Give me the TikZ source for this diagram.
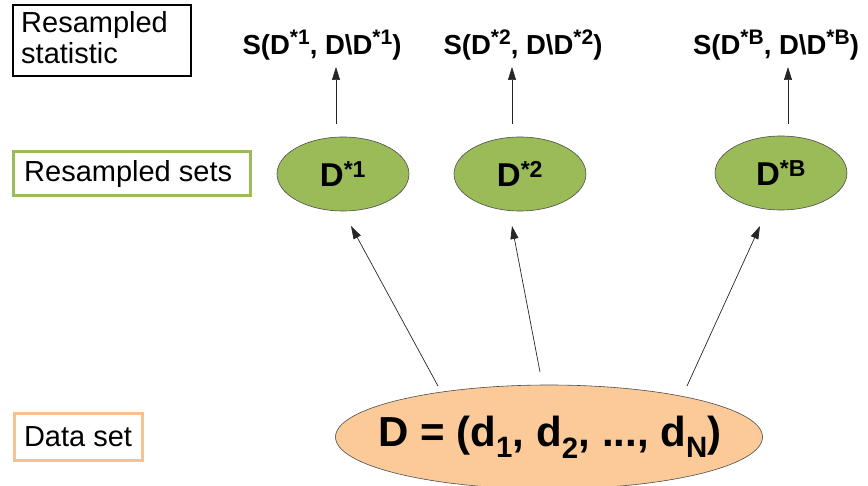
\documentclass[tikz,border=0pt]{standalone}
\usepackage{fontspec}
\setmainfont{Liberation Sans}
\usetikzlibrary{shapes.geometric,arrows.meta}
\definecolor{grn}{HTML}{9BBB59}
\definecolor{org}{HTML}{FBCA98}
\definecolor{orgline}{HTML}{FAC090}
\newcommand{\upidx}[1]{\raisebox{0.36em}{\fontsize{21}{21}\selectfont #1}}
\begin{document}
\begin{tikzpicture}[x=1pt,y=-1pt,
  setell/.style={ellipse,draw=black!70,line width=0.6pt,fill=grn,minimum width=132pt,minimum height=74pt,inner sep=0pt,font=\fontsize{33}{36}\selectfont\bfseries},
  stat/.style={inner sep=0pt,font=\fontsize{27.5}{30}\selectfont\bfseries},
  arr/.style={draw=black!85,line width=0.7pt,-{Triangle[length=13pt,width=8pt]}}]
\useasboundingbox (0,0) rectangle (868,486);
% legend boxes
\node[draw=black,line width=2pt,minimum width=178pt,minimum height=71pt,inner sep=0pt] (b1) at (102,40.5) {};
\node[anchor=north west,align=left,inner sep=0pt,font=\fontsize{29}{31}\selectfont] (t1) at (21,11) {Resampled\\statistic};
\node[draw=grn,line width=3pt,minimum width=237pt,minimum height=44pt,inner sep=0pt] (b2) at (131.5,174) {};
\node[anchor=west,inner sep=0pt,font=\fontsize{29}{31}\selectfont] (t2) at (24,174) {Resampled sets};
\node[draw=orgline,line width=3pt,minimum width=128pt,minimum height=46pt,inner sep=0pt,font=\fontsize{29}{31}\selectfont] (b3) at (78,437) {Data set};
% resampled sets
\node[setell] (E1) at (343,174) {D\textsuperscript{*1}};
\node[setell] (E2) at (520,174) {D\textsuperscript{*2}};
\node[setell] (E3) at (781,173) {D\textsuperscript{*B}};
% data set
\path[draw=black!70,line width=0.6pt,fill=org] (549,437) ellipse [x radius=213.5, y radius=52];
\node[inner sep=0pt,font=\fontsize{42}{46}\selectfont\bfseries] (D) at (550,437) {D = (d\textsubscript{1}, d\textsubscript{2}, ..., d\textsubscript{N})};
% statistics
\node[stat] (S1) at (322,45) {S(D\upidx{*1}, D\textbackslash D\upidx{*1})};
\node[stat] (S2) at (523,45) {S(D\upidx{*2}, D\textbackslash D\upidx{*2})};
\node[stat] (S3) at (776,45) {S(D\upidx{*B}, D\textbackslash D\upidx{*B})};
% arrow end points
\coordinate (u1s) at (336,124); \coordinate (u1e) at (336,67);
\coordinate (u2s) at (512,124); \coordinate (u2e) at (512,67);
\coordinate (u3s) at (788,124); \coordinate (u3e) at (788,67);
\coordinate (d1s) at (438,386); \coordinate (d1e) at (351,226);
\coordinate (d2s) at (540,372); \coordinate (d2e) at (512,226);
\coordinate (d3s) at (687,386); \coordinate (d3e) at (760,226);
\draw[arr] (u1s) -- (u1e);
\draw[arr] (u2s) -- (u2e);
\draw[arr] (u3s) -- (u3e);
\draw[arr] (d1s) -- (d1e);
\draw[arr] (d2s) -- (d2e);
\draw[arr] (d3s) -- (d3e);
\end{tikzpicture}
\end{document}
